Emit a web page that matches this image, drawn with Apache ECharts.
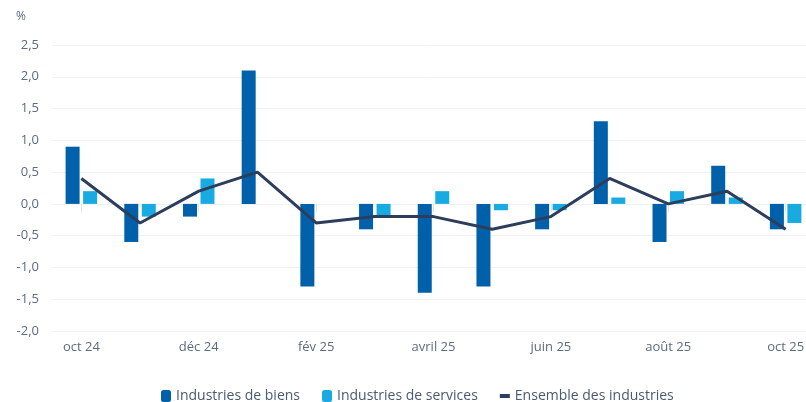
<!DOCTYPE html>
<html>
<head>
<meta charset="utf-8">
<script src="https://cdn.jsdelivr.net/npm/echarts@6/dist/echarts.min.js"></script>
<style>
  html, body { margin: 0; padding: 0; background: #fff; }
  #chart { width: 806px; height: 402px; }
</style>
</head>
<body>
<div id="chart"></div>
<script>
// mois (oct 24 -> oct 25)
const months = ['oct 24', 'nov 24', 'déc 24', 'janv 25', 'fév 25', 'mars 25', 'avril 25',
  'mai 25', 'juin 25', 'juil 25', 'août 25', 'sept 25', 'oct 25']
const biens = [0.9, -0.6, -0.2, 2.1, -1.3, -0.4, -1.4, -1.3, -0.4, 1.3, -0.6, 0.6, -0.4]
const services = [0.2, -0.2, 0.4, 0.0, 0.0, -0.2, 0.2, -0.1, -0.1, 0.1, 0.2, 0.1, -0.3]
const ensemble = [0.4, -0.3, 0.2, 0.5, -0.3, -0.2, -0.2, -0.4, -0.2, 0.4, 0.0, 0.2, -0.4]

const labelColor = '#5b6b80'
const chart = echarts.init(document.getElementById('chart'))

chart.setOption({
  animation: false,
  textStyle: { fontFamily: '"Open Sans", sans-serif' },
  // la grille dépasse à droite (image recadrée)
  grid: { left: 52, top: 45, width: 763, height: 286, containLabel: false, outerBoundsMode: 'none' },
  graphic: [{
    type: 'text', left: 16, top: 11,
    style: { text: '%', fill: labelColor, font: '12px "Open Sans", sans-serif' }
  }],
  legend: {
    top: 384,
    left: 156,
    itemGap: 22,
    itemWidth: 10,
    itemHeight: 12,
    textStyle: { color: '#4a5a70', fontSize: 14 },
    data: [
      { name: 'Industries de biens', icon: 'roundRect' },
      { name: 'Industries de services', icon: 'roundRect' },
      { name: 'Ensemble des industries', icon: 'path://M0,0 L10,0 L10,4 L0,4 Z', itemStyle: { color: '#2c3e5c' } }
    ]
  },
  xAxis: {
    type: 'category',
    data: months,
    axisLine: { show: false },
    axisTick: { show: true, alignWithLabel: true, interval: 1, length: 8, lineStyle: { color: '#dde3ea' } },
    axisLabel: { interval: 1, color: labelColor, fontSize: 13, margin: 10 }
  },
  yAxis: {
    type: 'value',
    min: -2, max: 2.5, interval: 0.5,
    axisLine: { show: false },
    axisTick: { show: false },
    axisLabel: {
      color: labelColor, fontSize: 13, margin: 13,
      formatter: v => v.toFixed(1).replace('.', ',')
    },
    splitLine: { lineStyle: { color: '#eef2f6', width: 1 } }
  },
  series: [
    {
      name: 'Industries de biens', type: 'bar', data: biens,
      barWidth: 14, barGap: '25%',
      itemStyle: { color: '#0061aa' }
    },
    {
      name: 'Industries de services', type: 'bar', data: services,
      barWidth: 14,
      itemStyle: { color: '#18abe2' }
    },
    {
      name: 'Ensemble des industries', type: 'line', data: ensemble,
      symbol: 'none',
      lineStyle: { color: '#2c3e5c', width: 3 },
      itemStyle: { color: '#2c3e5c' }
    }
  ]
})
</script>
</body>
</html>
